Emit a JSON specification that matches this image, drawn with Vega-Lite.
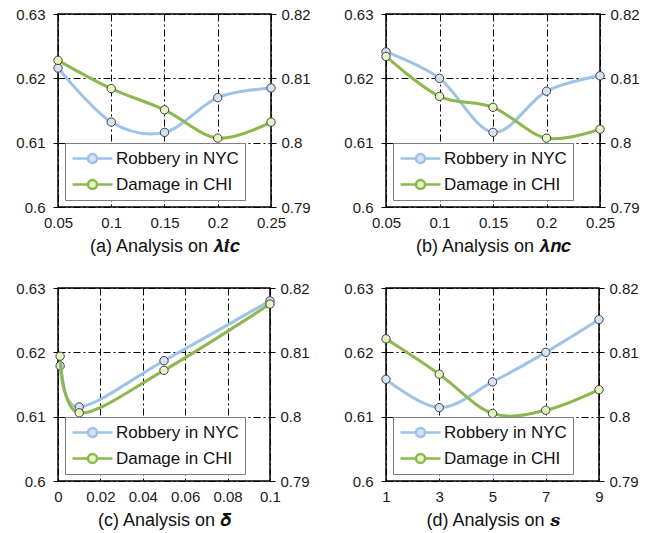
{
  "$schema": "https://vega.github.io/schema/vega-lite/v6.json",
  "padding": {"left": 15, "top": 6, "right": 5, "bottom": 5},
  "data": {"values": [
    {"panel": "a", "x": 0.05, "series": "Robbery in NYC", "v": 0.6216},
    {"panel": "a", "x": 0.1, "series": "Robbery in NYC", "v": 0.6132},
    {"panel": "a", "x": 0.15, "series": "Robbery in NYC", "v": 0.6116},
    {"panel": "a", "x": 0.2, "series": "Robbery in NYC", "v": 0.617},
    {"panel": "a", "x": 0.25, "series": "Robbery in NYC", "v": 0.6185},
    {"panel": "a", "x": 0.05, "series": "Damage in CHI", "v": 0.8128},
    {"panel": "a", "x": 0.1, "series": "Damage in CHI", "v": 0.8084},
    {"panel": "a", "x": 0.15, "series": "Damage in CHI", "v": 0.8051},
    {"panel": "a", "x": 0.2, "series": "Damage in CHI", "v": 0.8007},
    {"panel": "a", "x": 0.25, "series": "Damage in CHI", "v": 0.8032},
    {"panel": "b", "x": 0.05, "series": "Robbery in NYC", "v": 0.6241},
    {"panel": "b", "x": 0.1, "series": "Robbery in NYC", "v": 0.62},
    {"panel": "b", "x": 0.15, "series": "Robbery in NYC", "v": 0.6116},
    {"panel": "b", "x": 0.2, "series": "Robbery in NYC", "v": 0.618},
    {"panel": "b", "x": 0.25, "series": "Robbery in NYC", "v": 0.6204},
    {"panel": "b", "x": 0.05, "series": "Damage in CHI", "v": 0.8134},
    {"panel": "b", "x": 0.1, "series": "Damage in CHI", "v": 0.8072},
    {"panel": "b", "x": 0.15, "series": "Damage in CHI", "v": 0.8055},
    {"panel": "b", "x": 0.2, "series": "Damage in CHI", "v": 0.8007},
    {"panel": "b", "x": 0.25, "series": "Damage in CHI", "v": 0.8021},
    {"panel": "c", "x": 0.001, "series": "Robbery in NYC", "v": 0.6179},
    {"panel": "c", "x": 0.01, "series": "Robbery in NYC", "v": 0.6115},
    {"panel": "c", "x": 0.05, "series": "Robbery in NYC", "v": 0.6187},
    {"panel": "c", "x": 0.1, "series": "Robbery in NYC", "v": 0.628},
    {"panel": "c", "x": 0.001, "series": "Damage in CHI", "v": 0.8094},
    {"panel": "c", "x": 0.01, "series": "Damage in CHI", "v": 0.8006},
    {"panel": "c", "x": 0.05, "series": "Damage in CHI", "v": 0.8072},
    {"panel": "c", "x": 0.1, "series": "Damage in CHI", "v": 0.8175},
    {"panel": "d", "x": 1, "series": "Robbery in NYC", "v": 0.6158},
    {"panel": "d", "x": 3, "series": "Robbery in NYC", "v": 0.6114},
    {"panel": "d", "x": 5, "series": "Robbery in NYC", "v": 0.6154},
    {"panel": "d", "x": 7, "series": "Robbery in NYC", "v": 0.62},
    {"panel": "d", "x": 9, "series": "Robbery in NYC", "v": 0.6251},
    {"panel": "d", "x": 1, "series": "Damage in CHI", "v": 0.8121},
    {"panel": "d", "x": 3, "series": "Damage in CHI", "v": 0.8066},
    {"panel": "d", "x": 5, "series": "Damage in CHI", "v": 0.8005},
    {"panel": "d", "x": 7, "series": "Damage in CHI", "v": 0.801},
    {"panel": "d", "x": 9, "series": "Damage in CHI", "v": 0.8042}
  ]},
  "columns": 2,
  "spacing": {"column": 32, "row": 24},
  "resolve": {"scale": {"stroke": "independent", "fill": "independent", "x": "independent", "y": "independent"}, "legend": {"stroke": "independent", "fill": "independent"}},
  "concat": [
    {
      "width": 213, "height": 193,
      "transform": [{"filter": "datum.panel == 'a'"}],
      "encoding": {"x": {"field": "x", "type": "quantitative", "scale": {"domain": [0.05, 0.25], "nice": false, "zero": false}, "axis": {"values": [0.05, 0.1, 0.15, 0.2, 0.25], "format": ".2~f", "title": "(a) Analysis on 𝝀𝒕𝒄"}}},
      "layer": [
        {"transform": [{"filter": "datum.series == 'Robbery in NYC'"}],
         "encoding": {"y": {"field": "v", "type": "quantitative", "scale": {"domain": [0.6, 0.63], "nice": false, "zero": false}, "axis": {"values": [0.6, 0.61, 0.62, 0.63], "format": ".2~f", "title": null, "grid": true, "labelPadding": 8}}},
         "layer": [
           {"mark": {"type": "line", "interpolate": "cardinal", "strokeWidth": 3}, "encoding": {"stroke": {"field": "series", "type": "nominal", "scale": {"domain": ["Robbery in NYC", "Damage in CHI"], "range": ["#9dc3e6", "#8db84f"]}, "legend": {"title": null}}}},
           {"mark": {"type": "point", "shape": "circle", "filled": true, "size": 70, "stroke": "#404040", "strokeWidth": 1, "opacity": 1}, "encoding": {"fill": {"field": "series", "type": "nominal", "scale": {"domain": ["Robbery in NYC", "Damage in CHI"], "range": ["#d6e2f5", "#e6f5c2"]}, "legend": {"title": null}}}}
         ]},
        {"transform": [{"filter": "datum.series == 'Damage in CHI'"}],
         "encoding": {"y": {"field": "v", "type": "quantitative", "scale": {"domain": [0.79, 0.82], "nice": false, "zero": false}, "axis": {"orient": "right", "values": [0.79, 0.8, 0.81, 0.82], "format": ".2~f", "title": null, "grid": false}}},
         "layer": [
           {"mark": {"type": "line", "interpolate": "cardinal", "strokeWidth": 3}, "encoding": {"stroke": {"field": "series", "type": "nominal", "legend": {"title": null}}}},
           {"mark": {"type": "point", "shape": "circle", "filled": true, "size": 70, "stroke": "#404040", "strokeWidth": 1, "opacity": 1}, "encoding": {"fill": {"field": "series", "type": "nominal", "legend": {"title": null}}}}
         ]}
      ],
      "resolve": {"scale": {"y": "independent"}}
    },
    {
      "width": 214, "height": 193,
      "transform": [{"filter": "datum.panel == 'b'"}],
      "encoding": {"x": {"field": "x", "type": "quantitative", "scale": {"domain": [0.05, 0.25], "nice": false, "zero": false}, "axis": {"values": [0.05, 0.1, 0.15, 0.2, 0.25], "format": ".2~f", "title": "(b) Analysis on 𝝀𝒏𝒄"}}},
      "layer": [
        {"transform": [{"filter": "datum.series == 'Robbery in NYC'"}],
         "encoding": {"y": {"field": "v", "type": "quantitative", "scale": {"domain": [0.6, 0.63], "nice": false, "zero": false}, "axis": {"values": [0.6, 0.61, 0.62, 0.63], "format": ".2~f", "title": null, "grid": true, "labelPadding": 8}}},
         "layer": [
           {"mark": {"type": "line", "interpolate": "cardinal", "strokeWidth": 3}, "encoding": {"stroke": {"field": "series", "type": "nominal", "scale": {"domain": ["Robbery in NYC", "Damage in CHI"], "range": ["#9dc3e6", "#8db84f"]}, "legend": {"title": null}}}},
           {"mark": {"type": "point", "shape": "circle", "filled": true, "size": 70, "stroke": "#404040", "strokeWidth": 1, "opacity": 1}, "encoding": {"fill": {"field": "series", "type": "nominal", "scale": {"domain": ["Robbery in NYC", "Damage in CHI"], "range": ["#d6e2f5", "#e6f5c2"]}, "legend": {"title": null}}}}
         ]},
        {"transform": [{"filter": "datum.series == 'Damage in CHI'"}],
         "encoding": {"y": {"field": "v", "type": "quantitative", "scale": {"domain": [0.79, 0.82], "nice": false, "zero": false}, "axis": {"orient": "right", "values": [0.79, 0.8, 0.81, 0.82], "format": ".2~f", "title": null, "grid": false}}},
         "layer": [
           {"mark": {"type": "line", "interpolate": "cardinal", "strokeWidth": 3}, "encoding": {"stroke": {"field": "series", "type": "nominal", "legend": {"title": null}}}},
           {"mark": {"type": "point", "shape": "circle", "filled": true, "size": 70, "stroke": "#404040", "strokeWidth": 1, "opacity": 1}, "encoding": {"fill": {"field": "series", "type": "nominal", "legend": {"title": null}}}}
         ]}
      ],
      "resolve": {"scale": {"y": "independent"}}
    },
    {
      "width": 212, "height": 193,
      "transform": [{"filter": "datum.panel == 'c'"}],
      "encoding": {"x": {"field": "x", "type": "quantitative", "scale": {"domain": [0, 0.1], "nice": false, "zero": false}, "axis": {"values": [0, 0.02, 0.04, 0.06, 0.08, 0.1], "format": ".2~f", "title": "(c) Analysis on 𝜹"}}},
      "layer": [
        {"transform": [{"filter": "datum.series == 'Robbery in NYC'"}],
         "encoding": {"y": {"field": "v", "type": "quantitative", "scale": {"domain": [0.6, 0.63], "nice": false, "zero": false}, "axis": {"values": [0.6, 0.61, 0.62, 0.63], "format": ".2~f", "title": null, "grid": true, "labelPadding": 8}}},
         "layer": [
           {"mark": {"type": "line", "interpolate": "cardinal", "strokeWidth": 3}, "encoding": {"stroke": {"field": "series", "type": "nominal", "scale": {"domain": ["Robbery in NYC", "Damage in CHI"], "range": ["#9dc3e6", "#8db84f"]}, "legend": {"title": null}}}},
           {"mark": {"type": "point", "shape": "circle", "filled": true, "size": 70, "stroke": "#404040", "strokeWidth": 1, "opacity": 1}, "encoding": {"fill": {"field": "series", "type": "nominal", "scale": {"domain": ["Robbery in NYC", "Damage in CHI"], "range": ["#d6e2f5", "#e6f5c2"]}, "legend": {"title": null}}}}
         ]},
        {"transform": [{"filter": "datum.series == 'Damage in CHI'"}],
         "encoding": {"y": {"field": "v", "type": "quantitative", "scale": {"domain": [0.79, 0.82], "nice": false, "zero": false}, "axis": {"orient": "right", "values": [0.79, 0.8, 0.81, 0.82], "format": ".2~f", "title": null, "grid": false}}},
         "layer": [
           {"mark": {"type": "line", "interpolate": "cardinal", "strokeWidth": 3}, "encoding": {"stroke": {"field": "series", "type": "nominal", "legend": {"title": null}}}},
           {"mark": {"type": "point", "shape": "circle", "filled": true, "size": 70, "stroke": "#404040", "strokeWidth": 1, "opacity": 1}, "encoding": {"fill": {"field": "series", "type": "nominal", "legend": {"title": null}}}}
         ]}
      ],
      "resolve": {"scale": {"y": "independent"}}
    },
    {
      "width": 213, "height": 193,
      "transform": [{"filter": "datum.panel == 'd'"}],
      "encoding": {"x": {"field": "x", "type": "quantitative", "scale": {"domain": [1, 9], "nice": false, "zero": false}, "axis": {"values": [1, 3, 5, 7, 9], "format": "d", "title": "(d) Analysis on 𝒔"}}},
      "layer": [
        {"transform": [{"filter": "datum.series == 'Robbery in NYC'"}],
         "encoding": {"y": {"field": "v", "type": "quantitative", "scale": {"domain": [0.6, 0.63], "nice": false, "zero": false}, "axis": {"values": [0.6, 0.61, 0.62, 0.63], "format": ".2~f", "title": null, "grid": true, "labelPadding": 8}}},
         "layer": [
           {"mark": {"type": "line", "interpolate": "cardinal", "strokeWidth": 3}, "encoding": {"stroke": {"field": "series", "type": "nominal", "scale": {"domain": ["Robbery in NYC", "Damage in CHI"], "range": ["#9dc3e6", "#8db84f"]}, "legend": {"title": null}}}},
           {"mark": {"type": "point", "shape": "circle", "filled": true, "size": 70, "stroke": "#404040", "strokeWidth": 1, "opacity": 1}, "encoding": {"fill": {"field": "series", "type": "nominal", "scale": {"domain": ["Robbery in NYC", "Damage in CHI"], "range": ["#d6e2f5", "#e6f5c2"]}, "legend": {"title": null}}}}
         ]},
        {"transform": [{"filter": "datum.series == 'Damage in CHI'"}],
         "encoding": {"y": {"field": "v", "type": "quantitative", "scale": {"domain": [0.79, 0.82], "nice": false, "zero": false}, "axis": {"orient": "right", "values": [0.79, 0.8, 0.81, 0.82], "format": ".2~f", "title": null, "grid": false}}},
         "layer": [
           {"mark": {"type": "line", "interpolate": "cardinal", "strokeWidth": 3}, "encoding": {"stroke": {"field": "series", "type": "nominal", "legend": {"title": null}}}},
           {"mark": {"type": "point", "shape": "circle", "filled": true, "size": 70, "stroke": "#404040", "strokeWidth": 1, "opacity": 1}, "encoding": {"fill": {"field": "series", "type": "nominal", "legend": {"title": null}}}}
         ]}
      ],
      "resolve": {"scale": {"y": "independent"}}
    }
  ],
  "config": {
    "font": "Liberation Sans",
    "view": {"stroke": "#000000", "strokeWidth": 1.5},
    "axis": {
      "labelFont": "Liberation Sans", "labelFontSize": 15, "labelColor": "#1a1a1a",
      "domain": false, "ticks": true, "tickColor": "#000000", "tickSize": 5, "tickWidth": 1,
      "labelPadding": 5, "labelFlush": false,
      "gridColor": "#000000", "gridDash": [7, 3, 2, 3], "gridWidth": 1, "gridOpacity": 1,
      "titleFont": "Liberation Sans", "titleFontSize": 18, "titleFontWeight": "normal", "titleColor": "#111111", "titlePadding": 7
    },
    "axisX": {"ticks": false, "labelPadding": 8, "grid": true, "labelFlush": false},
    "legend": {
      "orient": "bottom-left", "offset": 7,
      "labelFont": "Liberation Sans", "labelFontSize": 17, "labelColor": "#111111", "labelLimit": 300,
      "fillColor": "#ffffff", "strokeColor": "#7f7f7f", "padding": 6, "rowPadding": 7,
      "symbolType": "M-1,0H0.9375M2.0625,0H4M0.9375,0A0.5625,0.5625,0,1,1,2.0625,0A0.5625,0.5625,0,1,1,0.9375,0Z",
      "symbolSize": 256, "symbolStrokeWidth": 2.5, "labelOffset": 26
    }
  }
}
